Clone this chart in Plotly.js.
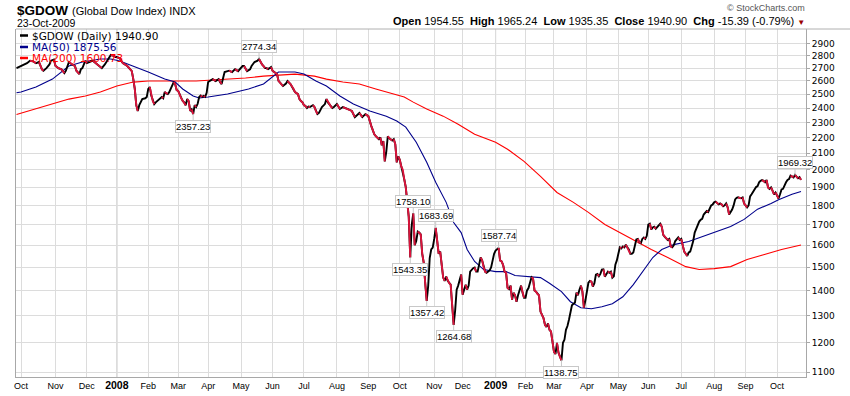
<!DOCTYPE html>
<html>
<head>
<meta charset="utf-8">
<script src="https://cdn.plot.ly/plotly-3.0.1.min.js"></script>
<style>html,body{margin:0;padding:0;background:#fff;}#chart{width:850px;height:396px;}</style>
</head>
<body>
<div id="chart"></div>
<script>
// ---------- DATA ----------
const priceDates = [
'2007-09-26','2007-09-28','2007-10-01','2007-10-03','2007-10-05','2007-10-09','2007-10-11','2007-10-15','2007-10-17','2007-10-19','2007-10-22','2007-10-24','2007-10-26','2007-10-29','2007-10-31',
'2007-11-01','2007-11-05','2007-11-07','2007-11-09','2007-11-12','2007-11-14','2007-11-16','2007-11-20','2007-11-21','2007-11-26','2007-11-27','2007-11-28','2007-11-30',
'2007-12-03','2007-12-05','2007-12-07','2007-12-10','2007-12-12','2007-12-14','2007-12-17','2007-12-19','2007-12-21','2007-12-24','2007-12-26','2007-12-28','2007-12-31',
'2008-01-02','2008-01-04','2008-01-08','2008-01-11','2008-01-15','2008-01-16','2008-01-17','2008-01-18','2008-01-22','2008-01-23','2008-01-24','2008-01-25','2008-01-28','2008-01-30','2008-01-31',
'2008-02-01','2008-02-04','2008-02-05','2008-02-06','2008-02-07','2008-02-08','2008-02-11','2008-02-13','2008-02-14','2008-02-15','2008-02-19','2008-02-20','2008-02-21','2008-02-22','2008-02-25','2008-02-26','2008-02-27','2008-02-28','2008-02-29',
'2008-03-03','2008-03-05','2008-03-06','2008-03-07','2008-03-10','2008-03-11','2008-03-12','2008-03-13','2008-03-14','2008-03-17','2008-03-18','2008-03-19','2008-03-20','2008-03-24','2008-03-25','2008-03-26','2008-03-27','2008-03-28','2008-03-31',
'2008-04-01','2008-04-02','2008-04-04','2008-04-08','2008-04-10','2008-04-11','2008-04-14','2008-04-16','2008-04-18','2008-04-21','2008-04-23','2008-04-25','2008-04-29','2008-04-30',
'2008-05-02','2008-05-05','2008-05-07','2008-05-09','2008-05-12','2008-05-14','2008-05-16','2008-05-19','2008-05-20','2008-05-21','2008-05-22','2008-05-23','2008-05-27','2008-05-28','2008-05-29','2008-05-30',
'2008-06-02','2008-06-03','2008-06-05','2008-06-06','2008-06-10','2008-06-11','2008-06-13','2008-06-16','2008-06-18','2008-06-20','2008-06-23','2008-06-25','2008-06-26','2008-06-27','2008-06-30',
'2008-07-01','2008-07-02','2008-07-03','2008-07-07','2008-07-08','2008-07-10','2008-07-11','2008-07-14','2008-07-15','2008-07-16','2008-07-17','2008-07-18','2008-07-22','2008-07-23','2008-07-24','2008-07-25','2008-07-28','2008-07-29','2008-07-30','2008-07-31',
'2008-08-01','2008-08-05','2008-08-07','2008-08-12','2008-08-14','2008-08-15','2008-08-19','2008-08-21','2008-08-22','2008-08-26','2008-08-28','2008-08-29',
'2008-09-02','2008-09-04','2008-09-05','2008-09-08','2008-09-09','2008-09-11','2008-09-12','2008-09-15','2008-09-16','2008-09-17','2008-09-18','2008-09-19','2008-09-22','2008-09-24','2008-09-25','2008-09-26','2008-09-29','2008-09-30',
'2008-10-01','2008-10-02','2008-10-03','2008-10-06','2008-10-07','2008-10-08','2008-10-09','2008-10-10','2008-10-13','2008-10-14','2008-10-15','2008-10-16','2008-10-17','2008-10-20','2008-10-21','2008-10-22','2008-10-23','2008-10-24','2008-10-27','2008-10-28','2008-10-29','2008-10-30','2008-10-31',
'2008-11-03','2008-11-04','2008-11-05','2008-11-06','2008-11-07','2008-11-10','2008-11-11','2008-11-12','2008-11-13','2008-11-14','2008-11-17','2008-11-18','2008-11-19','2008-11-20','2008-11-21','2008-11-24','2008-11-25','2008-11-26','2008-11-28',
'2008-12-01','2008-12-02','2008-12-03','2008-12-04','2008-12-05','2008-12-08','2008-12-09','2008-12-10','2008-12-11','2008-12-12','2008-12-15','2008-12-16','2008-12-17','2008-12-18','2008-12-19','2008-12-22','2008-12-23','2008-12-24','2008-12-26','2008-12-29','2008-12-30','2008-12-31',
'2009-01-02','2009-01-05','2009-01-06','2009-01-07','2009-01-08','2009-01-09','2009-01-12','2009-01-13','2009-01-14','2009-01-15','2009-01-16','2009-01-20','2009-01-21','2009-01-22','2009-01-23','2009-01-26','2009-01-27','2009-01-28','2009-01-29','2009-01-30',
'2009-02-02','2009-02-03','2009-02-04','2009-02-05','2009-02-06','2009-02-09','2009-02-10','2009-02-11','2009-02-12','2009-02-13','2009-02-17','2009-02-18','2009-02-19','2009-02-20','2009-02-23','2009-02-24','2009-02-25','2009-02-26','2009-02-27',
'2009-03-02','2009-03-03','2009-03-04','2009-03-05','2009-03-06','2009-03-09','2009-03-10','2009-03-11','2009-03-12','2009-03-13','2009-03-16','2009-03-17','2009-03-18','2009-03-19','2009-03-20','2009-03-23','2009-03-24','2009-03-25','2009-03-26','2009-03-27','2009-03-30','2009-03-31',
'2009-04-01','2009-04-02','2009-04-03','2009-04-06','2009-04-07','2009-04-08','2009-04-09','2009-04-13','2009-04-14','2009-04-15','2009-04-16','2009-04-17','2009-04-20','2009-04-21','2009-04-22','2009-04-23','2009-04-24','2009-04-27','2009-04-28','2009-04-29','2009-04-30',
'2009-05-01','2009-05-04','2009-05-05','2009-05-06','2009-05-07','2009-05-08','2009-05-11','2009-05-12','2009-05-13','2009-05-14','2009-05-15','2009-05-18','2009-05-19','2009-05-20','2009-05-21','2009-05-22','2009-05-26','2009-05-27','2009-05-28','2009-05-29',
'2009-06-01','2009-06-02','2009-06-03','2009-06-04','2009-06-05','2009-06-08','2009-06-09','2009-06-10','2009-06-11','2009-06-12','2009-06-15','2009-06-16','2009-06-17','2009-06-18','2009-06-19','2009-06-22','2009-06-23','2009-06-24','2009-06-25','2009-06-26','2009-06-29','2009-06-30',
'2009-07-01','2009-07-02','2009-07-06','2009-07-07','2009-07-08','2009-07-09','2009-07-10','2009-07-13','2009-07-14','2009-07-15','2009-07-16','2009-07-17','2009-07-20','2009-07-21','2009-07-22','2009-07-23','2009-07-24','2009-07-27','2009-07-28','2009-07-29','2009-07-30','2009-07-31',
'2009-08-03','2009-08-04','2009-08-05','2009-08-06','2009-08-07','2009-08-10','2009-08-11','2009-08-12','2009-08-13','2009-08-14','2009-08-17','2009-08-18','2009-08-19','2009-08-20','2009-08-21','2009-08-24','2009-08-25','2009-08-26','2009-08-27','2009-08-28','2009-08-31',
'2009-09-01','2009-09-02','2009-09-03','2009-09-04','2009-09-08','2009-09-09','2009-09-10','2009-09-11','2009-09-14','2009-09-15','2009-09-16','2009-09-17','2009-09-18','2009-09-21','2009-09-22','2009-09-23','2009-09-24','2009-09-25','2009-09-28','2009-09-29','2009-09-30',
'2009-10-01','2009-10-02','2009-10-05','2009-10-06','2009-10-07','2009-10-08','2009-10-09','2009-10-12','2009-10-13','2009-10-14','2009-10-15','2009-10-16','2009-10-19','2009-10-20','2009-10-21','2009-10-22','2009-10-23'
];
const priceValues = [
2700,2710,2717,2730,2740,2760,2755,2740,2749,2690,2680,2700,2730,2760,2770,
2720,2700,2690,2660,2680,2749,2730,2717,2680,2653,2692,2700,2760,
2740,2750,2760,2750,2730,2709,2700,2730,2774,2790,2807,2800,2790,
2790,2780,2740,2717,2690,2676,2614,2540,2420,2379,2420,2440,2464,2470,2479,
2539,2554,2490,2450,2428,2440,2450,2470,2479,2470,2516,2505,2501,2515,2539,2560,2591,2575,2530,
2524,2470,2450,2440,2420,2464,2450,2379,2390,2357.23,2420,2407,2430,2479,2490,2480,2487,2480,2510,
2591,2600,2614,2599,2614,2590,2576,2669,2676,2680,2669,2692,2676,2690,
2717,2717,2676,2690,2717,2749,2760,2774.34,2750,2730,2717,2700,2700,2692,2700,2709,
2680,2669,2653,2600,2576,2561,2580,2599,2576,2540,2516,2500,2464,2450,2440,
2420,2414,2400,2410,2407,2420,2407,2380,2357,2365,2390,2407,2428,2464,2440,2428,2410,2400,2407,2420,
2428,2393,2407,2393,2385,2379,2336,2357,2365,2336,2357,2350,
2343,2275,2240,2221,2208,2189,2200,2150,2176,2050,2110,2208,2195,2180,2189,2156,2044,2080,
2060,2020,2000,1944,1900,1816,1740,1543.35,1700,1758.10,1600,1620,1666,1661,1652,1560,1520,1430,1357.42,1420,1540,1580,1589,
1630,1683.69,1620,1560,1570,1500,1454,1440,1458,1440,1430,1424,1340,1264.68,1320,1403,1420,1445,1467,
1382,1400,1424,1403,1420,1480,1489,1495,1498,1480,1480,1520,1543,1530,1500,1480,1475,1480,1485,1498,1530,1560,
1575,1580,1587.74,1530,1525,1510,1480,1475,1411,1405,1420,1362,1390,1380,1354,1380,1400,1420,1390,1370,
1370,1400,1410,1440,1456,1450,1400,1395,1385,1380,1315,1300,1290,1265,1257,1270,1246,1240,1209,
1168,1160,1199,1165,1150,1138.75,1199,1210,1246,1260,1284,1311,1340,1346,1350,1391,1380,1403,1420,1395,1330,1360,
1391,1432,1440,1437,1416,1430,1467,1470,1460,1470,1489,1490,1458,1470,1480,1475,1480,1454,1460,1511,1530,
1560,1590,1585,1594,1590,1603,1590,1580,1560,1560,1566,1600,1627,1630,1613,1610,1630,1637,1630,1645,
1701,1705,1676,1686,1690,1680,1690,1700,1705,1690,1650,1640,1630,1625,1630,1594,1590,1600,1620,1630,1637,1625,
1630,1600,1570,1560,1550,1566,1570,1594,1620,1661,1680,1691,1716,1725,1730,1752,1760,1770,1765,1780,1800,1805,
1816,1820,1810,1805,1810,1805,1795,1800,1810,1790,1752,1765,1778,1800,1832,1840,1843,1840,1838,1843,1810,
1800,1789,1800,1848,1860,1875,1887,1900,1905,1927,1935,1940,1935,1927,1940,1898,1890,1898,1880,1859,1870,
1850,1837,1860,1887,1890,1915,1927,1940,1945,1965,1961,1955,1969.32,1962,1950,1956.29,1940.90
];

const ma50Dates = ['2007-09-26','2007-10-01','2007-10-15','2007-10-30','2007-11-14','2007-11-28','2007-12-14','2007-12-26','2008-01-04','2008-01-17','2008-02-01','2008-02-19','2008-02-28','2008-03-06','2008-03-17','2008-03-24','2008-04-01','2008-04-18','2008-05-08','2008-05-22','2008-06-02','2008-06-06','2008-06-12','2008-06-23','2008-07-01','2008-07-14','2008-07-23','2008-08-05','2008-08-18','2008-09-03','2008-09-18','2008-09-29','2008-10-07','2008-10-16','2008-10-27','2008-11-04','2008-11-13','2008-11-20','2008-11-28','2008-12-04','2008-12-11','2008-12-19','2009-01-02','2009-01-13','2009-01-22','2009-02-03','2009-02-17','2009-02-25','2009-03-09','2009-03-17','2009-03-26','2009-04-06','2009-04-16','2009-04-27','2009-05-06','2009-05-15','2009-05-27','2009-06-04','2009-06-12','2009-06-24','2009-07-09','2009-07-22','2009-08-05','2009-08-18','2009-08-31','2009-09-14','2009-09-25','2009-10-02','2009-10-15','2009-10-23'];
const ma50Values = [2510,2516,2554,2614,2717,2749,2774,2774,2757,2717,2669,2614,2591,2539,2487,2472,2479,2501,2539,2576,2630,2669,2669,2669,2653,2599,2561,2487,2428,2379,2343,2309,2268,2169,2044,1927,1816,1711,1661,1580,1525,1489,1480,1480,1463,1458,1454,1430,1395,1354,1330,1326,1334,1346,1374,1424,1489,1543,1580,1603,1618,1642,1666,1691,1727,1780,1810,1830,1860,1875.56];

const ma200Dates = ['2007-09-26','2007-10-15','2007-10-30','2007-11-14','2007-11-30','2007-12-14','2008-01-02','2008-01-17','2008-02-01','2008-02-19','2008-03-03','2008-03-19','2008-04-04','2008-04-18','2008-05-06','2008-05-22','2008-06-06','2008-06-23','2008-07-11','2008-07-23','2008-08-07','2008-08-22','2008-09-09','2008-09-25','2008-10-06','2008-10-14','2008-10-27','2008-11-11','2008-11-25','2008-12-11','2009-01-02','2009-01-14','2009-01-30','2009-02-17','2009-03-04','2009-03-19','2009-04-02','2009-04-20','2009-05-06','2009-05-19','2009-06-03','2009-06-18','2009-07-07','2009-07-20','2009-08-03','2009-08-18','2009-09-02','2009-09-18','2009-10-06','2009-10-23'];
const ma200Values = [2355,2393,2428,2464,2487,2516,2561,2591,2599,2599,2599,2599,2607,2614,2622,2637,2645,2653,2637,2614,2591,2576,2539,2501,2479,2442,2393,2343,2288,2221,2169,2125,2050,1961,1870,1816,1763,1701,1652,1618,1580,1543,1502,1489,1493,1502,1534,1556,1580,1600.73];

const tickDates = ['2007-10-01','2007-11-01','2007-12-03','2008-01-02','2008-02-01','2008-03-03','2008-04-01','2008-05-01','2008-06-02','2008-07-01','2008-08-01','2008-09-02','2008-10-01','2008-11-03','2008-12-01','2009-01-02','2009-02-02','2009-03-02','2009-04-01','2009-05-01','2009-06-01','2009-07-01','2009-08-03','2009-09-01','2009-10-01'];
const tickLabels = ['Oct','Nov','Dec','2008','Feb','Mar','Apr','May','Jun','Jul','Aug','Sep','Oct','Nov','Dec','2009','Feb','Mar','Apr','May','Jun','Jul','Aug','Sep','Oct'];
const yearStarts = ['2008-01-02','2009-01-02'];
const yTicks = [1100,1200,1300,1400,1500,1600,1700,1800,1900,2000,2100,2200,2300,2400,2500,2600,2700,2800,2900];

const markDates = ['2008-03-17','2008-05-19','2008-10-10','2008-10-14','2008-10-27','2008-11-04','2008-11-20','2009-01-06','2009-03-09','2009-10-19'];
const markValues = [2357.23,2774.34,1543.35,1758.10,1357.42,1683.69,1264.68,1587.74,1138.75,1969.32];
const markSides = ['below','above','below','above','below','above','below','above','below','above'];

const holidays = ['2007-11-22','2007-12-25','2008-01-01','2008-01-21','2008-02-18','2008-03-21','2008-05-26','2008-07-04','2008-09-01','2008-11-27','2008-12-25','2009-01-01','2009-01-19','2009-02-16','2009-04-10','2009-05-25','2009-07-03','2009-09-07'];

// ---------- BUILD ----------
function downSegments(xs, ys) {
  const rx = [], ry = [];
  let open = false;
  for (let i = 1; i < ys.length; i++) {
    if (ys[i] < ys[i - 1]) {
      if (!open) { rx.push(xs[i - 1]); ry.push(ys[i - 1]); open = true; }
      rx.push(xs[i]); ry.push(ys[i]);
    } else if (open) {
      rx.push(xs[i - 1]); ry.push(null); open = false;
    }
  }
  return { rx, ry };
}
const seg = downSegments(priceDates, priceValues);

const traces = [
  { x: ma200Dates, y: ma200Values, type: 'scatter', mode: 'lines', line: { color: '#ff0000', width: 1.1 }, hoverinfo: 'skip' },
  { x: ma50Dates, y: ma50Values, type: 'scatter', mode: 'lines', line: { color: '#00008b', width: 1.1 }, hoverinfo: 'skip' },
  { x: priceDates, y: priceValues, type: 'scatter', mode: 'lines', line: { color: '#000000', width: 1.9 }, hoverinfo: 'skip' },
  { x: seg.rx, y: seg.ry, type: 'scatter', mode: 'lines', line: { color: '#dc143c', width: 1.9 }, connectgaps: false, hoverinfo: 'skip' }
];

const W = 850, H = 396, ML = 16, MR = 44, MT = 29, MB = 19;
const PW = W - ML - MR, PH = H - MT - MB;
const px = v => (v - ML) / PW;
const py = v => 1 - (v - MT) / PH;

const annotations = [];
markDates.forEach((d, i) => {
  const above = markSides[i] === 'above';
  annotations.push({
    x: d, y: Math.log10(markValues[i]), xref: 'x', yref: 'y',
    text: markValues[i].toFixed(2), showarrow: true, arrowhead: 0, arrowwidth: 1,
    arrowcolor: '#c8c8c8', ax: 0, ay: above ? -12 : 12,
    bgcolor: '#ffffff', bordercolor: '#c8c8c8', borderwidth: 1, borderpad: 0,
    font: { family: 'Arial, Liberation Sans, sans-serif', size: 9.5, color: '#000' }
  });
});

// header texts
annotations.push(
  { xref: 'paper', yref: 'paper', x: px(15), y: py(10), xanchor: 'left', yanchor: 'middle', showarrow: false,
    text: '<b>$GDOW</b>', font: { family: 'Arial, Liberation Sans, sans-serif', size: 13.5, color: '#000' } },
  { xref: 'paper', yref: 'paper', x: px(70), y: py(11), xanchor: 'left', yanchor: 'middle', showarrow: false,
    text: '(Global Dow Index) INDX', font: { family: 'Arial, Liberation Sans, sans-serif', size: 11, color: '#000' } },
  { xref: 'paper', yref: 'paper', x: px(15), y: py(23), xanchor: 'left', yanchor: 'middle', showarrow: false,
    text: '23-Oct-2009', font: { family: 'Arial, Liberation Sans, sans-serif', size: 10.5, color: '#000' } },
  { xref: 'paper', yref: 'paper', x: px(807), y: py(7.5), xanchor: 'right', yanchor: 'middle', showarrow: false,
    text: '© StockCharts.com', font: { family: 'Arial, Liberation Sans, sans-serif', size: 9, color: '#555' } },
  { xref: 'paper', yref: 'paper', x: px(807), y: py(21.5), xanchor: 'right', yanchor: 'middle', showarrow: false,
    text: '<b>Open</b> 1954.55  <b>High</b> 1965.24  <b>Low</b> 1935.35  <b>Close</b> 1940.90  <b>Chg</b> -15.39 (-0.79%) <span style="color:#990000;font-size:8px">▼</span>',
    font: { family: 'Arial, Liberation Sans, sans-serif', size: 11, color: '#000' } }
);

// legend texts
const legendItems = [
  { text: '$GDOW (Daily) 1940.90', color: '#000000', y: 35.5 },
  { text: 'MA(50) 1875.56', color: '#00008b', y: 47 },
  { text: 'MA(200) 1600.73', color: '#ff0000', y: 58 }
];
const shapes = [];
legendItems.forEach(it => {
  annotations.push({ xref: 'paper', yref: 'paper', x: px(30), y: py(it.y), xanchor: 'left', yanchor: 'middle', showarrow: false,
    text: it.text, font: { family: 'DejaVu Sans, Verdana, sans-serif', size: 10.5, color: it.color } });
  shapes.push({ type: 'line', xref: 'paper', yref: 'paper', x0: px(20), x1: px(28), y0: py(it.y), y1: py(it.y),
    line: { color: it.color, width: 2.5 } });
});

yearStarts.forEach(d => shapes.push({ type: 'line', xref: 'x', yref: 'paper', x0: d, x1: d, y0: 0, y1: 1, layer: 'below',
  line: { color: '#a8a8a8', width: 1 } }));
// top rule across header
shapes.push({ type: 'line', xref: 'paper', yref: 'paper', x0: 0, x1: px(850), y0: 1, y1: 1, line: { color: '#b0b0b0', width: 1 } });

const tickText = tickLabels.map(t => /^\d{4}$/.test(t) ? '<b><span style="font-size:10.5px">' + t + '</span></b>' : t);

const layout = {
  width: W, height: H,
  margin: { l: ML, r: MR, t: MT, b: MB, pad: 0 },
  paper_bgcolor: '#ffffff', plot_bgcolor: '#ffffff',
  showlegend: false,
  xaxis: {
    type: 'date',
    range: ['2007-09-25 15:50', '2009-10-28 08:10'],
    rangebreaks: [{ bounds: ['sat', 'mon'] }, { values: holidays }],
    tickmode: 'array', tickvals: tickDates, ticktext: tickText, tickangle: 0,
    tickfont: { family: 'Arial, Liberation Sans, sans-serif', size: 9, color: '#000' },
    showgrid: true, gridcolor: '#dcdcdc', gridwidth: 1,
    showline: true, linecolor: '#a8a8a8', linewidth: 1, mirror: false,
    ticks: '', zeroline: false, fixedrange: true
  },
  yaxis: {
    type: 'log', side: 'right',
    range: [Math.log10(1084), Math.log10(3031)],
    tickmode: 'array', tickvals: yTicks, ticktext: yTicks.map(String),
    tickfont: { family: 'DejaVu Sans, Verdana, sans-serif', size: 9, color: '#000' },
    ticks: 'outside', ticklen: 3, tickcolor: '#a8a8a8',
    showgrid: true, gridcolor: '#dcdcdc', gridwidth: 1,
    showline: true, linecolor: '#a8a8a8', linewidth: 1, mirror: true,
    zeroline: false, fixedrange: true
  },
  annotations: annotations,
  shapes: shapes
};

Plotly.newPlot('chart', traces, layout, { displayModeBar: false, staticPlot: true });
</script>
</body>
</html>
